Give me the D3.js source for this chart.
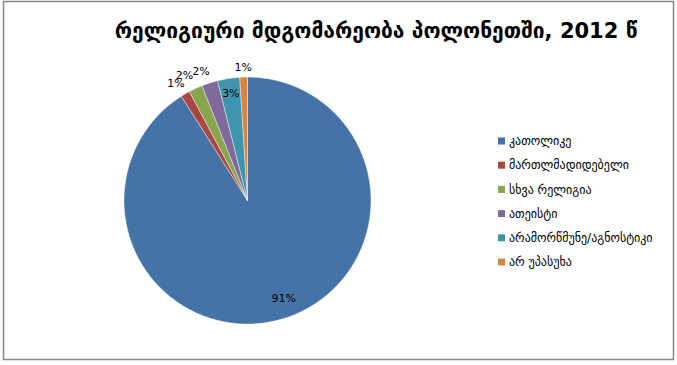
<!DOCTYPE html>
<html>
<head>
<meta charset="utf-8">
<script src="https://cdn.jsdelivr.net/npm/d3@7"></script>
<style>
  body { margin: 0; background: #fff; }
  svg text { font-family: "DejaVu Sans", sans-serif; fill: #000; }
</style>
</head>
<body>
<div id="chart"></div>
<script>
// Chart data
const title = "რელიგიური მდგომარეობა პოლონეთში, 2012 წ";
const categories = ["კათოლიკე", "მართლმადიდებელი", "სხვა რელიგია", "ათეისტი", "არამორწმუნე/აგნოსტიკი", "არ უპასუხა"];
const values = [91.0, 1.2, 1.8, 2.1, 2.9, 1.0];
const labels = ["91%", "1%", "2%", "2%", "3%", "1%"];
const colors = ["#4572A7", "#AA4643", "#89A54E", "#80699B", "#3D96AE", "#DB843D"];

const width = 677, height = 365;

const svg = d3.select("#chart").append("svg")
    .attr("width", width)
    .attr("height", height);

// Outer frame
svg.append("rect")
    .attr("x", 3.5).attr("y", 1.5)
    .attr("width", 670).attr("height", 358)
    .attr("fill", "#fff")
    .attr("stroke", "#888")
    .attr("stroke-width", 1.5);

// Title
svg.append("text")
    .attr("x", 376).attr("y", 38)
    .attr("text-anchor", "middle")
    .style("font-size", "21px")
    .style("font-weight", "bold")
    .text(title);

// Pie
const cx = 247.5, cy = 200.5, r = 123.5;
const pie = d3.pie().sort(null).value(d => d);
const arcs = pie(values);
const arc = d3.arc().innerRadius(0).outerRadius(r);

const g = svg.append("g").attr("transform", `translate(${cx},${cy})`);

g.selectAll("path")
    .data(arcs)
    .enter().append("path")
    .attr("d", arc)
    .attr("fill", (d, i) => colors[i])
    .attr("stroke", "#fff")
    .attr("stroke-width", 0.4);

// Data labels: big slice inside, small ones just outside the rim
const labelRadius = [0.82, 1.1, 1.12, 1.1, 0.88, 1.08];
const labelNudge = [8, -3, -5, -5, 0, 0];
g.selectAll("text.lbl")
    .data(arcs)
    .enter().append("text")
    .attr("class", "lbl")
    .attr("x", (d, i) => Math.sin((d.startAngle + d.endAngle) / 2) * r * labelRadius[i] + labelNudge[i])
    .attr("y", (d, i) => -Math.cos((d.startAngle + d.endAngle) / 2) * r * labelRadius[i])
    .attr("dy", "0.35em")
    .attr("text-anchor", "middle")
    .style("font-size", "11px")
    .text((d, i) => labels[i]);

// Legend
const legend = svg.append("g").attr("transform", "translate(498,141)");
const item = legend.selectAll("g")
    .data(categories)
    .enter().append("g")
    .attr("transform", (d, i) => `translate(0,${i * 24.2})`);

item.append("rect")
    .attr("x", 0).attr("y", -3.5)
    .attr("width", 7).attr("height", 7)
    .attr("fill", (d, i) => colors[i]);

item.append("text")
    .attr("x", 11)
    .attr("dy", "0.35em")
    .style("font-size", "12px")
    .text(d => d);
</script>
</body>
</html>
